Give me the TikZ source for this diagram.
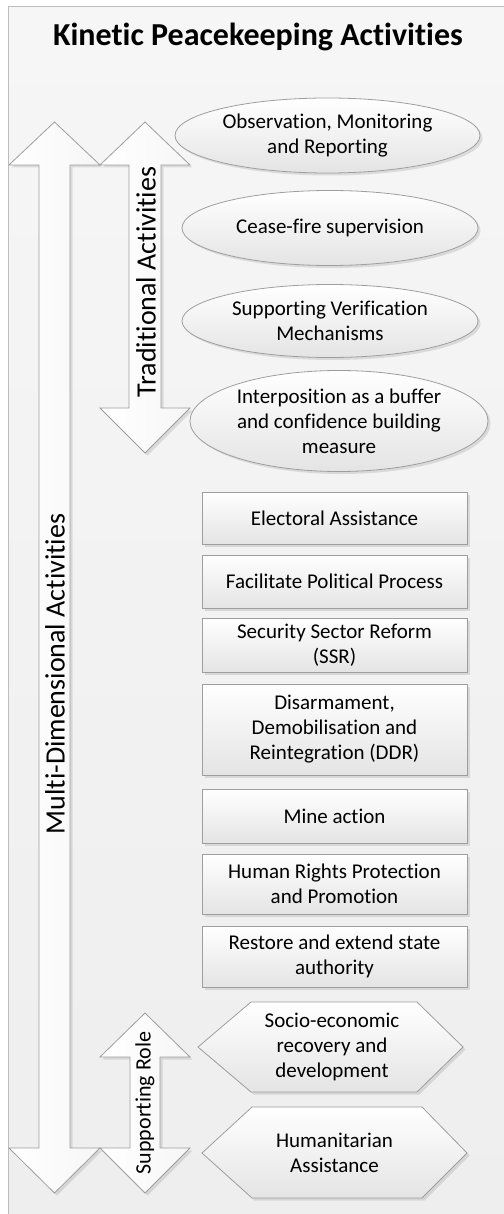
\documentclass[tikz,border=0pt]{standalone}
\usepackage{fontspec}
\setmainfont{Carlito}[Ligatures={NoCommon}]
\usetikzlibrary{shapes.geometric,shadows}
\definecolor{lineg}{HTML}{9E9E9E}
\definecolor{frameg}{HTML}{BDBDBD}
\definecolor{bgtop}{HTML}{F6F6F6}
\definecolor{bgbot}{HTML}{EEEEEE}
\definecolor{shpbot}{HTML}{E4E4E4}
\tikzset{
  myshadow/.style={drop shadow={shadow xshift=2.5pt,shadow yshift=-2.5pt,opacity=0.22}},
  shp/.style={draw=lineg,line width=0.8pt,top color=white,bottom color=shpbot,myshadow},
  txt/.style={font=\fontsize{21}{25}\selectfont,align=center,text=black,inner sep=0pt},
  boxnode/.style={shp,txt,rectangle,minimum width=265pt},
  ellnode/.style={shp,ellipse,inner sep=0pt},
  arr/.style={draw=lineg,line width=0.8pt,left color=white,right color=gray!7,myshadow},
  vlab/.style={rotate=90,font=\fontsize{28}{30}\selectfont,inner sep=0pt},
}
\begin{document}
\begin{tikzpicture}[x=1pt,y=-1pt]
\useasboundingbox (0,0) rectangle (503,1214);
% background frame
\path[draw=frameg,line width=1pt,top color=bgtop,bottom color=bgbot] (8,7) rectangle (520,1230);
% title
\node[font=\fontsize{32}{36}\selectfont\bfseries,anchor=base,inner sep=0pt] (title) at (258,46) {Kinetic Peacekeeping Activities};
% big double arrow
\path[arr] (54.5,122) -- (100,165) -- (70,165) -- (70,1148) -- (100,1148) -- (54.5,1193) -- (9,1148) -- (39,1148) -- (39,165) -- (9,165) -- cycle;
% traditional arrow
\path[arr] (145,122) -- (190,165) -- (161,165) -- (161,408) -- (190,408) -- (145,453) -- (100,408) -- (129,408) -- (129,165) -- (100,165) -- cycle;
% supporting arrow
\path[arr] (145,1013) -- (190,1057) -- (160,1057) -- (160,1148) -- (190,1148) -- (145,1193) -- (100,1148) -- (130,1148) -- (130,1057) -- (100,1057) -- cycle;
\node[vlab] (multi) at (55,674) {Multi-Dimensional Activities};
\node[vlab] (trad) at (146,282) {Traditional Activities};
\node[vlab,font=\fontsize{22}{25}\selectfont] (supp) at (145,1103) {Supporting Role};
% ellipses
\node[ellnode,minimum width=305pt,minimum height=75pt] (e1) at (327.5,135.5) {};
\node[txt] (e1t) at (e1.center) {Observation, Monitoring\\and Reporting};
\node[ellnode,minimum width=296pt,minimum height=75pt] (e2) at (330,228) {};
\node[txt] (e2t) at (e2.center) {Cease-fire supervision};
\node[ellnode,minimum width=296pt,minimum height=73pt] (e3) at (330,321) {};
\node[txt] (e3t) at (e3.center) {Supporting Verification\\Mechanisms};
\node[ellnode,minimum width=298pt,minimum height=101pt] (e4) at (339,421) {};
\node[txt] (e4t) at (e4.center) {Interposition as a buffer\\and confidence building\\measure};
% boxes
\node[boxnode,minimum height=52pt] (b1) at (334.5,518) {Electoral Assistance};
\node[boxnode,minimum height=53pt] (b2) at (334.5,581.5) {Facilitate Political Process};
\node[boxnode,minimum height=54pt] (b3) at (334.5,645) {Security Sector Reform\\(SSR)};
\node[boxnode,minimum height=91pt] (b4) at (334.5,729.5) {Disarmament,\\Demobilisation and\\Reintegration (DDR)};
\node[boxnode,minimum height=54pt] (b5) at (334.5,816) {Mine action};
\node[boxnode,minimum height=60pt] (b6) at (334.5,884) {Human Rights Protection\\and Promotion};
\node[boxnode,minimum height=61pt] (b7) at (334.5,956.5) {Restore and extend state\\authority};
% hexagons
\path[shp] (198,1047) -- (251,1002) -- (417,1002) -- (463,1047) -- (417,1092) -- (251,1092) -- cycle;
\node[txt] (h1) at (332,1047) {Socio-economic\\recovery and\\development};
\path[shp] (202,1153) -- (252,1107) -- (422,1107) -- (467,1153) -- (422,1198) -- (252,1198) -- cycle;
\node[txt] (h2) at (334.5,1153) {Humanitarian\\Assistance};
\end{tikzpicture}
\end{document}
